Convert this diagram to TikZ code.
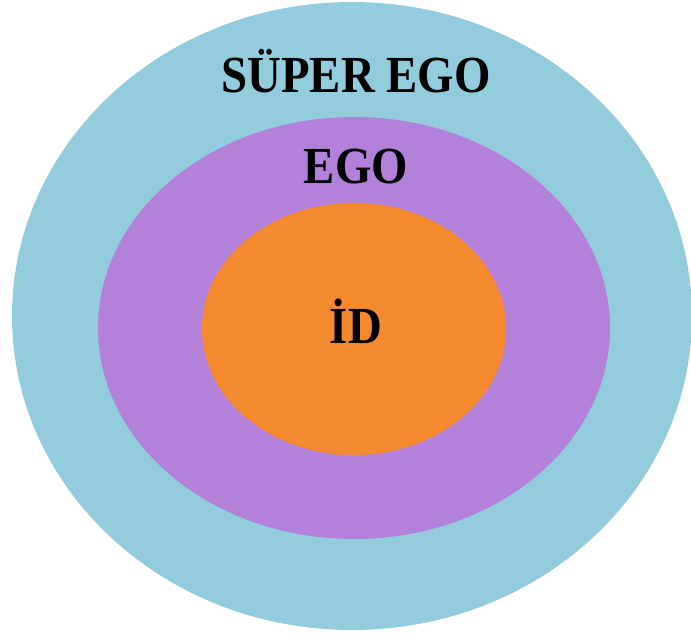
\documentclass[tikz,border=0pt]{standalone}
\usepackage{fontspec}
\setmainfont{Liberation Serif}
\usetikzlibrary{shapes.geometric}

\definecolor{superblue}{RGB}{146,204,221}
\definecolor{egopurple}{RGB}{179,129,217}
\definecolor{idorange}{RGB}{245,137,46}

\tikzset{
  layer/.style={ellipse, inner sep=0pt, draw=none},
  layertext/.style={anchor=base, inner sep=0pt, font=\fontsize{52}{52}\selectfont\bfseries}
}

\begin{document}
\begin{tikzpicture}[x=1pt, y=-1pt]
        \useasboundingbox (0,0) rectangle (691,640);

        % nested layers
        \node[layer, fill=superblue, minimum width=680pt, minimum height=628pt] (superego) at (352,316) {};
        \node[layer, fill=egopurple, minimum width=512pt, minimum height=422pt] (ego) at (354,328) {};
        \node[layer, fill=idorange, minimum width=304pt, minimum height=252pt] (id) at (354,329) {};

        % labels
        \node[layertext] (superegolabel) at (356,92) {\scalebox{0.9}[1]{SÜPER EGO}};
        \node[layertext] (egolabel) at (356,183) {\scalebox{0.9}[1]{EGO}};
        \node[layertext] (idlabel) at (356,343) {\scalebox{0.9}[1]{İD}};
\end{tikzpicture}
\end{document}
